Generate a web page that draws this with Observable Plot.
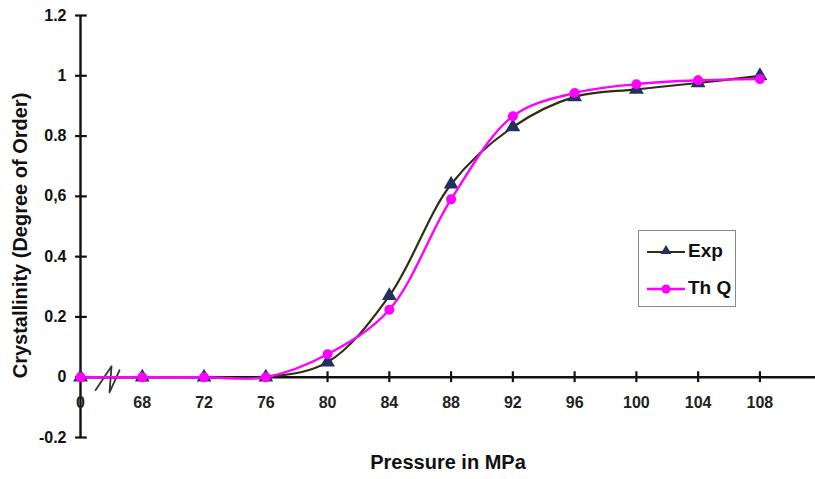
<!DOCTYPE html>
<html>
<head>
<meta charset="utf-8">
<script src="https://cdn.jsdelivr.net/npm/d3@7"></script>
<script src="https://cdn.jsdelivr.net/npm/@observablehq/plot@0.6"></script>
<style>
  html, body { margin: 0; padding: 0; background: #fff; }
  #wrap { position: relative; width: 815px; height: 479px; font-family: "Liberation Sans", Arial, sans-serif; }
  #legend { position: absolute; left: 638px; top: 230px; width: 96px; height: 75px; border: 1.5px solid #8a8a8a; background: #fff; font-weight: bold; font-size: 19px; color: #111; }
  .row { position: absolute; left: 8px; display: flex; align-items: center; height: 22px; }
  .row svg { margin-right: 3px; }
</style>
</head>
<body>
<div id="wrap"></div>
<script>
// Pressure categories (evenly spaced on the axis, with an axis break after 0)
const pressures = ["0", "68", "72", "76", "80", "84", "88", "92", "96", "100", "104", "108"];
// Experimental crystallinity
const expValues = [0, 0, 0, 0, 0.05, 0.27, 0.64, 0.83, 0.93, 0.955, 0.976, 1.0];
// Theoretical (Th Q) crystallinity
const thqValues = [0, 0, 0, 0, 0.076, 0.224, 0.59, 0.866, 0.943, 0.972, 0.985, 0.989];
// y tick values and labels
const yTicks = [-0.2, 0, 0.2, 0.4, 0.6, 0.8, 1, 1.2];
const yTickLabels = ["-0.2", "0", "0.2", "0.4", "0,6", "0.8", "1", "1.2"];
// axis break glyph (in axis units: category index, value)
const breakGlyph = [[0.243, -0.043], [0.502, 0.036], [0.470, -0.050], [0.631, 0.023]];

const exp = pressures.map((p, i) => ({i, p, v: expValues[i]}));
const thq = pressures.map((p, i) => ({i, p, v: thqValues[i]}));
const xt = pressures.map((p, i) => ({i, p}));
const yt = yTicks.map((v, k) => ({v, label: yTickLabels[k]}));

const font = "Liberation Sans, Arial, sans-serif";

const chart = Plot.plot({
  width: 815,
  height: 479,
  marginLeft: 80,
  marginRight: 0,
  marginTop: 15,
  marginBottom: 42,
  style: {fontFamily: font, background: "#fff", overflow: "visible"},
  x: {type: "linear", domain: [0, 11.9], axis: null},
  y: {domain: [-0.2, 1.2], axis: null},
  marks: [
    // y axis line & ticks
    Plot.ruleX([0], {y1: -0.2, y2: 1.2, stroke: "#111", strokeWidth: 2.4}),
    Plot.ruleY(yt, {y: "v", x1: -0.08, x2: 0.11, stroke: "#111", strokeWidth: 2.2}),
    Plot.text(yt, {y: "v", text: "label", frameAnchor: "left", dx: -14, textAnchor: "end", fontSize: 16, fontWeight: "bold", fill: "#111"}),
    // x axis line at y = 0 & ticks
    Plot.ruleY([0], {x1: 0, x2: 11.9, stroke: "#111", strokeWidth: 2.4}),
    Plot.ruleX(xt.slice(1), {x: "i", y1: -0.018, y2: 0.018, stroke: "#111", strokeWidth: 2.2}),
    Plot.text(xt, {x: "i", y: 0, dy: 26, text: "p", fontSize: 16, fontWeight: "bold", fill: "#222"}),
    // axis break
    Plot.line(breakGlyph, {x: d => d[0], y: d => d[1], stroke: "#333", strokeWidth: 1.8}),
    // series
    Plot.line(exp, {x: "i", y: "v", curve: "catmull-rom", stroke: "#2e2e12", strokeWidth: 2.2}),
    Plot.dot(exp, {x: "i", y: "v", symbol: "triangle", r: 5.5, fill: "#25305e", stroke: "none"}),
    Plot.line(thq, {x: "i", y: "v", curve: "catmull-rom", stroke: "#ff00ff", strokeWidth: 2.4}),
    Plot.dot(thq, {x: "i", y: "v", r: 5, fill: "#ff00ff", stroke: "none"}),
    // axis titles
    Plot.text(["Pressure in MPa"], {frameAnchor: "bottom", dy: 31, fontSize: 20, fontWeight: "bold", fill: "#111"}),
    Plot.text(["Crystallinity (Degree of Order)"], {frameAnchor: "left", textAnchor: "middle", dx: -60, dy: 9, rotate: -90, fontSize: 20, fontWeight: "bold", fill: "#111"})
  ]
});

const wrap = document.getElementById("wrap");
wrap.appendChild(chart);

const legend = document.createElement("div");
legend.id = "legend";
legend.innerHTML = `
  <div class="row" style="top:9px">
    <svg width="38" height="20"><line x1="0" y1="11" x2="38" y2="11" stroke="#2e2e12" stroke-width="2.2"/><path d="M19,4 L24.5,13 L13.5,13 Z" fill="#25305e"/></svg><span>Exp</span>
  </div>
  <div class="row" style="top:46px">
    <svg width="38" height="20"><line x1="0" y1="11" x2="38" y2="11" stroke="#ff00ff" stroke-width="2.4"/><circle cx="19" cy="11" r="4.5" fill="#ff00ff"/></svg><span>Th Q</span>
  </div>`;
wrap.appendChild(legend);
</script>
</body>
</html>
